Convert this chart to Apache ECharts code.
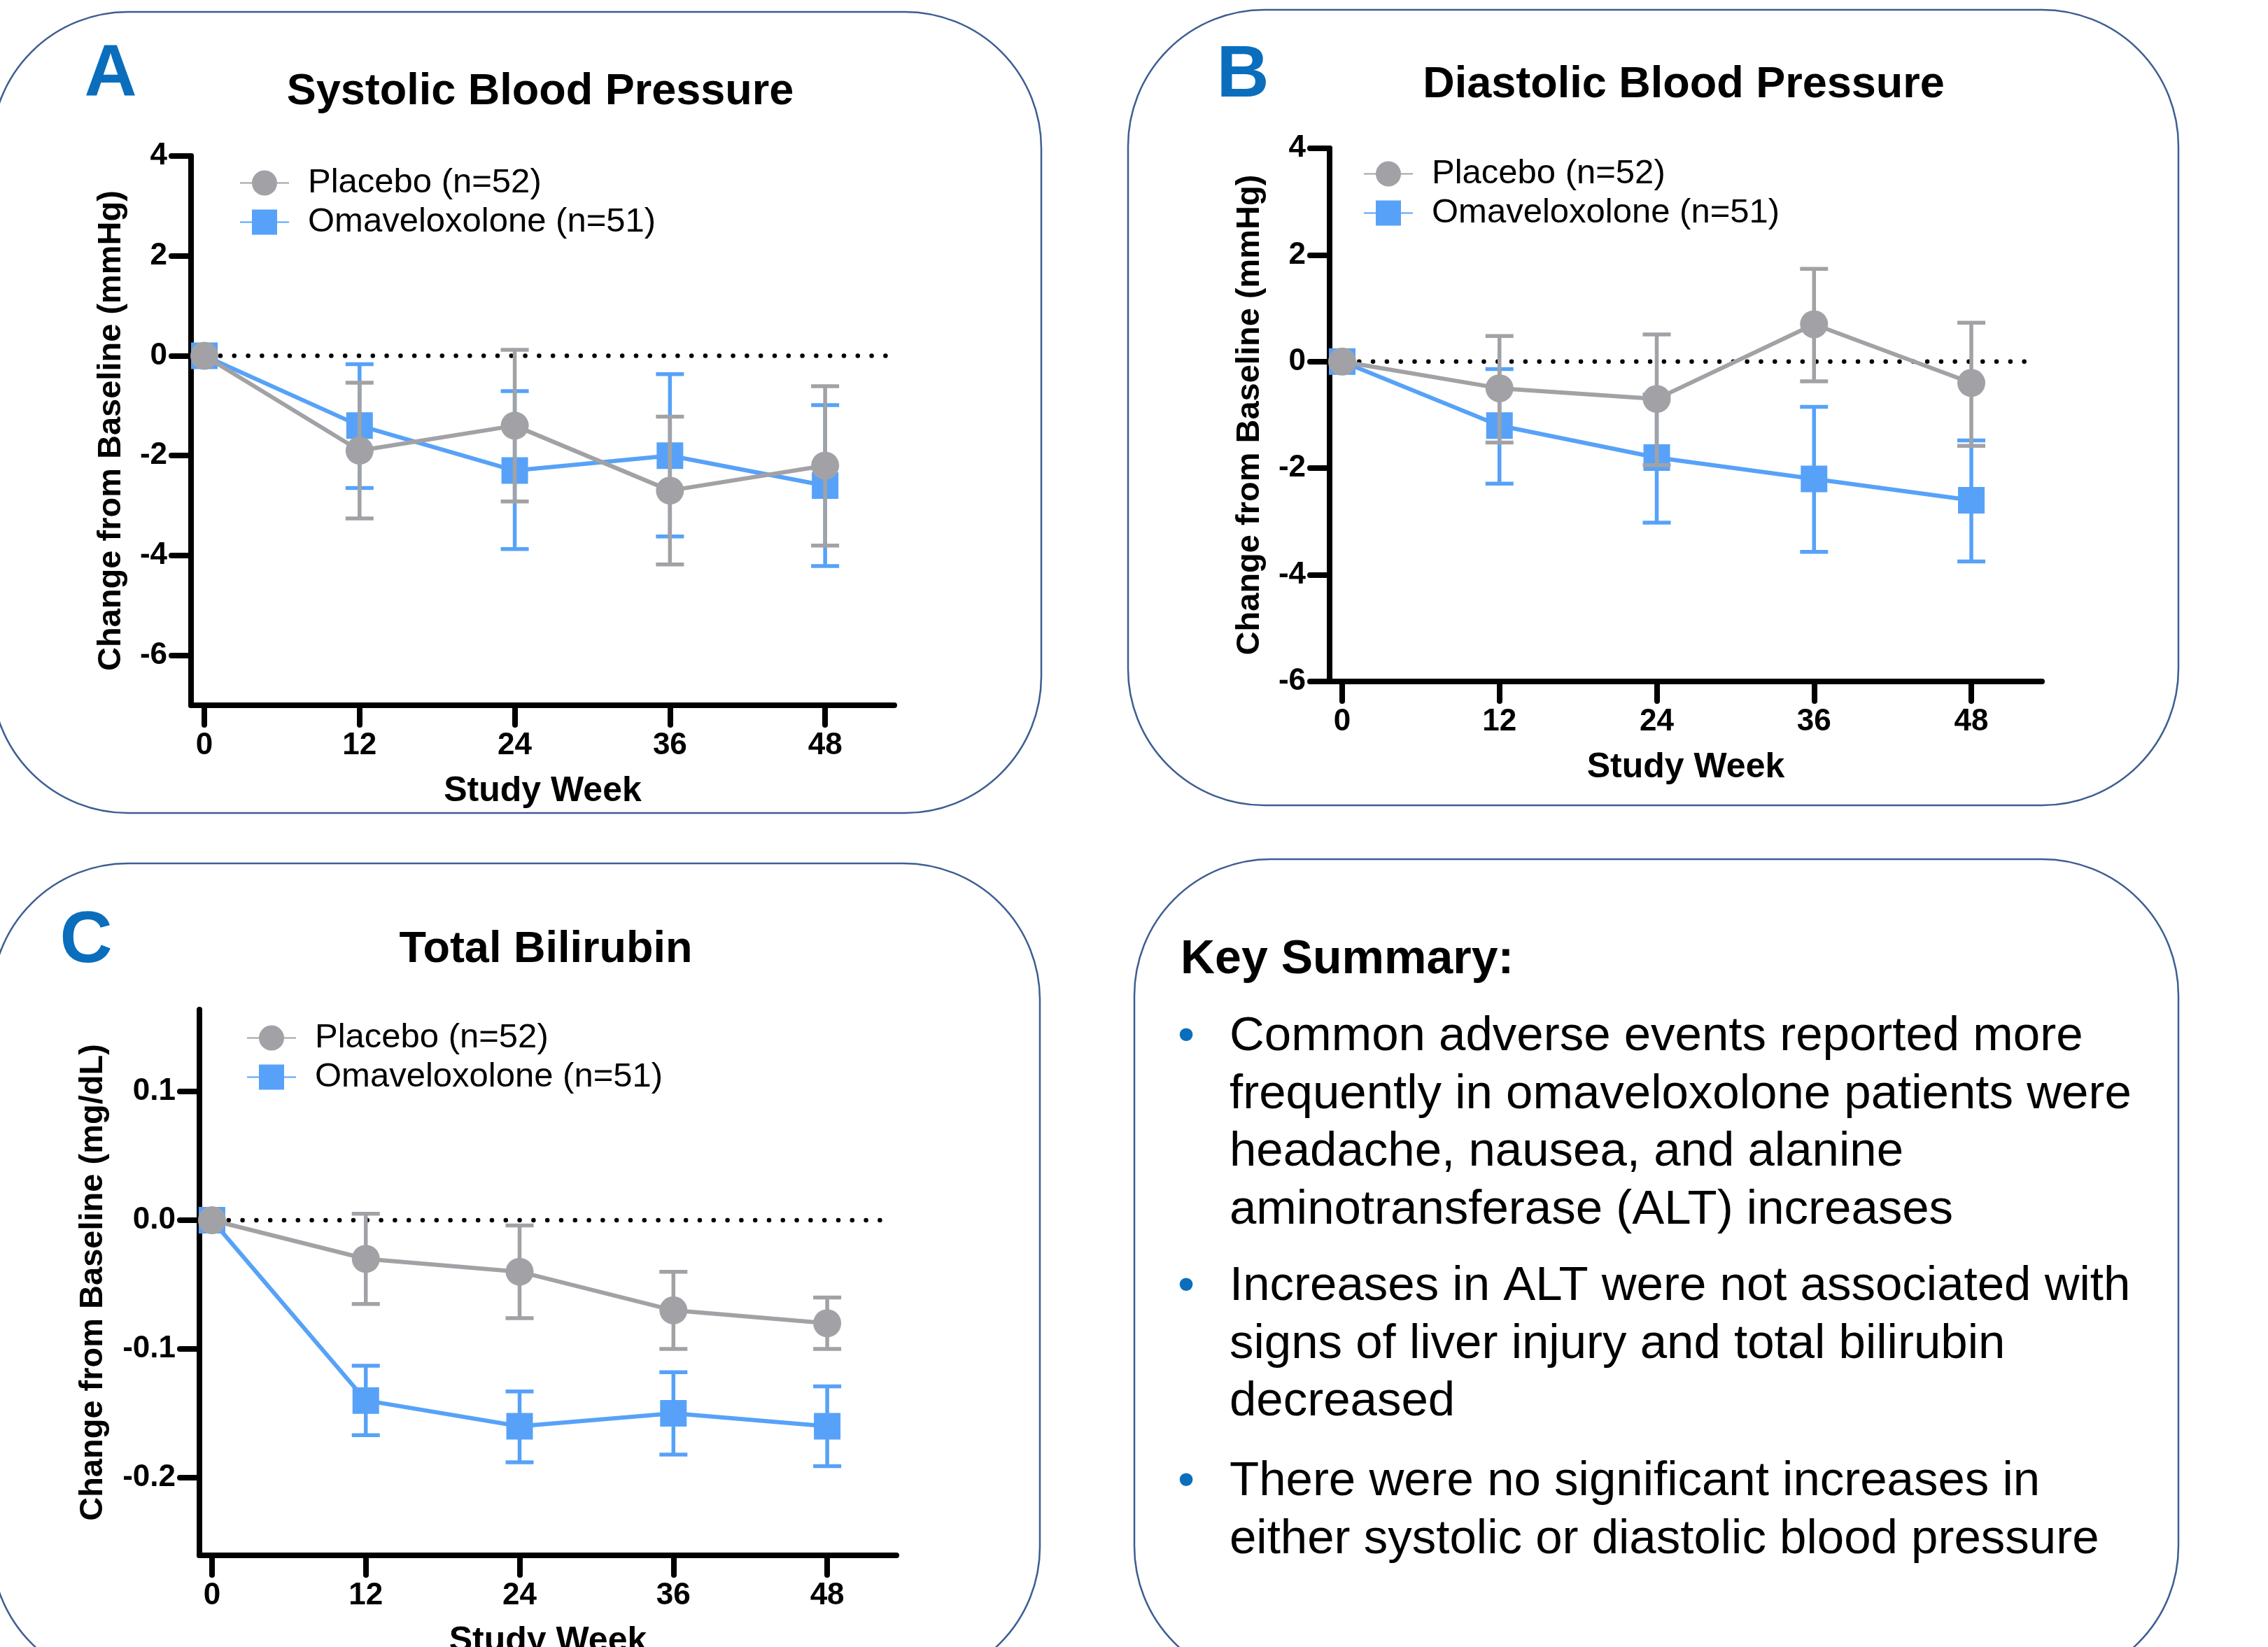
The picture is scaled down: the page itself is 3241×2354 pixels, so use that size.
<!DOCTYPE html>
<html>
<head>
<meta charset="utf-8">
<script src="https://cdn.jsdelivr.net/npm/echarts@6/dist/echarts.min.js"></script>
<style>
html,body{margin:0;padding:0;background:#fff;}
#chart{width:3241px;height:2354px;}
</style>
</head>
<body>
<div id="chart"></div>
<script>
// ---------------- data ----------------
const weeks = [0, 12, 24, 36, 48];
const xTicks = [0, 12, 24, 36, 48];

// A: Systolic Blood Pressure (mmHg)
const sbpPlaceboMean = [0, -1.9, -1.4, -2.7, -2.2];
const sbpPlaceboLow  = [null, -3.26, -2.92, -4.18, -3.80];
const sbpPlaceboHigh = [null, -0.54, 0.12, -1.22, -0.61];
const sbpOmavMean    = [0, -1.4, -2.3, -2.0, -2.6];
const sbpOmavLow     = [null, -2.65, -3.87, -3.62, -4.21];
const sbpOmavHigh    = [null, -0.17, -0.71, -0.37, -0.99];
const sbpTicks = [-6, -4, -2, 0, 2, 4];

// B: Diastolic Blood Pressure (mmHg)
const dbpPlaceboMean = [0, -0.5, -0.7, 0.7, -0.4];
const dbpPlaceboLow  = [null, -1.52, -1.94, -0.37, -1.58];
const dbpPlaceboHigh = [null, 0.48, 0.51, 1.74, 0.73];
const dbpOmavMean    = [0, -1.2, -1.8, -2.2, -2.6];
const dbpOmavLow     = [null, -2.29, -3.02, -3.57, -3.75];
const dbpOmavHigh    = [null, -0.14, -0.62, -0.85, -1.48];
const dbpTicks = [-6, -4, -2, 0, 2, 4];

// C: Total Bilirubin (mg/dL)
const bilPlaceboMean = [0, -0.03, -0.04, -0.07, -0.08];
const bilPlaceboLow  = [null, -0.065, -0.076, -0.100, -0.100];
const bilPlaceboHigh = [null, 0.005, -0.004, -0.040, -0.060];
const bilOmavMean    = [0, -0.14, -0.16, -0.15, -0.16];
const bilOmavLow     = [null, -0.167, -0.188, -0.182, -0.191];
const bilOmavHigh    = [null, -0.113, -0.133, -0.118, -0.129];
const bilTicks = [-0.2, -0.1, 0.0, 0.1];

const seriesNames = ['Placebo (n=52)', 'Omaveloxolone (n=51)'];
const panelTitles = ['Systolic Blood Pressure', 'Diastolic Blood Pressure', 'Total Bilirubin'];
const panelLetters = ['A', 'B', 'C'];
const yNames = ['Change from Baseline (mmHg)', 'Change from Baseline (mmHg)', 'Change from Baseline (mg/dL)'];
const xName = 'Study Week';
const summaryTitle = 'Key Summary:';
const summaryBullets = [
  ['Common adverse events reported more', 'frequently in omaveloxolone patients were', 'headache, nausea, and alanine', 'aminotransferase (ALT) increases'],
  ['Increases in ALT were not associated with', 'signs of liver injury and total bilirubin', 'decreased'],
  ['There were no significant increases in', 'either systolic or diastolic blood pressure']
];

// ---------------- style ----------------
const FONT = '"Liberation Sans", Arial, Helvetica, sans-serif';
const GRAY = '#A2A2A6';
const BLUE = '#57A2F8';
const LETTER_BLUE = '#0A6EBD';
const BORDER = '#3D5E92';

const chart = echarts.init(document.getElementById('chart'), null, {renderer: 'canvas'});

function errData(lo, hi) {
  const out = [];
  weeks.forEach((w, i) => { if (lo[i] != null) out.push([w, lo[i], hi[i]]); });
  return out;
}
function errRender(color) {
  return function (params, api) {
    const x = api.value(0);
    const p1 = api.coord([x, api.value(2)]);
    const p2 = api.coord([x, api.value(1)]);
    const hw = 20;
    const st = {stroke: color, lineWidth: 5.5, fill: null};
    return {
      type: 'group',
      children: [
        {type: 'line', shape: {x1: p1[0], y1: p1[1], x2: p2[0], y2: p2[1]}, style: st},
        {type: 'line', shape: {x1: p1[0] - hw, y1: p1[1], x2: p1[0] + hw, y2: p1[1]}, style: st},
        {type: 'line', shape: {x1: p2[0] - hw, y1: p2[1], x2: p2[0] + hw, y2: p2[1]}, style: st}
      ]
    };
  };
}
function pairs(arr) { return weeks.map((w, i) => [w, arr[i]]); }

const grids = [
  {left: 273, top: 223, width: 1005, height: 785, outerBoundsMode: 'none', containLabel: false},
  {left: 1900, top: 212, width: 1018, height: 762, outerBoundsMode: 'none', containLabel: false},
  {left: 285, top: 1443, width: 996, height: 780, outerBoundsMode: 'none', containLabel: false}
];
const xRanges = [[-1.03, 53.35], [-0.96, 53.39], [-0.98, 53.4]];
const yRanges = [[-7, 4], [-6, 4], [-0.2603, 0.1636]];
const yTickSets = [sbpTicks, dbpTicks, bilTicks];
const yFmt = [v => String(v), v => String(v), v => v.toFixed(1)];

const axisLineStyle = {color: '#000', width: 8, cap: 'round'};
const xAxes = grids.map((g, i) => ({
  type: 'value', gridIndex: i, min: xRanges[i][0], max: xRanges[i][1],
  splitLine: {show: false},
  axisLine: {show: true, onZero: false, lineStyle: axisLineStyle},
  axisTick: {show: true, length: 28, lineStyle: {color: '#000', width: 8, cap: 'round'}, customValues: xTicks},
  axisLabel: {show: true, customValues: xTicks, margin: 36, fontFamily: FONT, fontWeight: 'bold', fontSize: 44, color: '#000'},
  name: xName, nameLocation: 'middle', nameGap: 98,
  nameTextStyle: {fontFamily: FONT, fontWeight: 'bold', fontSize: 50, color: '#000'}
}));
const yAxes = grids.map((g, i) => ({
  type: 'value', gridIndex: i, min: yRanges[i][0], max: yRanges[i][1],
  splitLine: {show: false},
  axisLine: {show: true, onZero: false, lineStyle: axisLineStyle},
  axisTick: {show: true, length: 28, lineStyle: {color: '#000', width: 8, cap: 'round'}, customValues: yTickSets[i]},
  axisLabel: {show: true, customValues: yTickSets[i], margin: 34, formatter: yFmt[i], fontFamily: FONT, fontWeight: 'bold', fontSize: 44, color: '#000'},
  name: yNames[i], nameLocation: 'middle', nameGap: i === 2 ? 128 : 90, nameRotate: 90,
  nameTextStyle: {fontFamily: FONT, fontWeight: 'bold', fontSize: 47, color: '#000'}
}));

const panelData = [
  [sbpPlaceboMean, sbpPlaceboLow, sbpPlaceboHigh, sbpOmavMean, sbpOmavLow, sbpOmavHigh],
  [dbpPlaceboMean, dbpPlaceboLow, dbpPlaceboHigh, dbpOmavMean, dbpOmavLow, dbpOmavHigh],
  [bilPlaceboMean, bilPlaceboLow, bilPlaceboHigh, bilOmavMean, bilOmavLow, bilOmavHigh]
];

const series = [];
panelData.forEach((d, i) => {
  const [pm, pl, ph, om, ol, oh] = d;
  // dotted zero reference line
  series.push({
    type: 'line', xAxisIndex: i, yAxisIndex: i, silent: true, symbol: 'none',
    data: [[xRanges[i][0] + 1.2, 0], [xRanges[i][1] - 0.4, 0]],
    lineStyle: {color: '#000', width: 6.5, type: [0, 19.8], cap: 'round'}, z: 1
  });
  series.push({
    type: 'custom', xAxisIndex: i, yAxisIndex: i, silent: true,
    data: errData(ol, oh), renderItem: errRender(BLUE), z: 2
  });
  series.push({
    name: seriesNames[1], type: 'line', xAxisIndex: i, yAxisIndex: i,
    data: pairs(om), symbol: 'rect', symbolSize: 38, showAllSymbol: true,
    lineStyle: {color: BLUE, width: 6}, itemStyle: {color: BLUE}, z: 3
  });
  series.push({
    type: 'custom', xAxisIndex: i, yAxisIndex: i, silent: true,
    data: errData(pl, ph), renderItem: errRender(GRAY), z: 4
  });
  series.push({
    name: seriesNames[0], type: 'line', xAxisIndex: i, yAxisIndex: i,
    data: pairs(pm), symbol: 'circle', symbolSize: 40, showAllSymbol: true,
    lineStyle: {color: GRAY, width: 6}, itemStyle: {color: GRAY}, z: 5
  });
});

const legendPos = [{left: 337, top: 232}, {left: 1943, top: 219}, {left: 347, top: 1454}];
const legends = legendPos.map(p => ({
  left: p.left, top: p.top, orient: 'vertical', align: 'left',
  data: seriesNames, itemWidth: 70, itemHeight: 45, itemGap: 7,
  textStyle: {fontFamily: FONT, fontSize: 49, color: '#000', padding: [0, 0, 0, 22]},
  selectedMode: false
}));

// ---------------- graphics (panels + text) ----------------
const graphics = [];
const panels = [
  {x: -12, y: 17, w: 1500, h: 1145},
  {x: 1612, y: 14, w: 1501, h: 1137},
  {x: -12, y: 1234, w: 1498, h: 1172},
  {x: 1621, y: 1228, w: 1492, h: 1177}
];
panels.forEach(p => graphics.push({
  type: 'rect', shape: {x: p.x, y: p.y, width: p.w, height: p.h, r: 195},
  style: {fill: '#fff', stroke: BORDER, lineWidth: 2.5}, z: -10, silent: true
}));
const letterPos = [[158, 107], [1776, 109], [123, 1346]];
letterPos.forEach((p, i) => graphics.push({
  type: 'text', x: p[0], y: p[1], silent: true,
  style: {text: panelLetters[i], font: 'bold 104px ' + FONT, fill: LETTER_BLUE,
    textAlign: 'center', align: 'center', textVerticalAlign: 'middle', verticalAlign: 'middle'}
}));
const titlePos = [[772, 132], [2406, 122], [780, 1358]];
titlePos.forEach((p, i) => graphics.push({
  type: 'text', x: p[0], y: p[1], silent: true,
  style: {text: panelTitles[i], font: 'bold 63px ' + FONT, fill: '#000',
    textAlign: 'center', align: 'center', textVerticalAlign: 'middle', verticalAlign: 'middle'}
}));
// summary
graphics.push({
  type: 'text', x: 1687, y: 1372, silent: true,
  style: {text: summaryTitle, font: 'bold 68px ' + FONT, fill: '#000',
    textAlign: 'left', align: 'left', textVerticalAlign: 'middle', verticalAlign: 'middle'}
});
const bulletStartY = [1482, 1839, 2118];
const lineH = 82.7;
summaryBullets.forEach((lines, bi) => {
  graphics.push({
    type: 'text', x: 1695, y: bulletStartY[bi], silent: true,
    style: {text: '\u2022', font: '69px ' + FONT, fill: LETTER_BLUE,
      textAlign: 'center', align: 'center', textVerticalAlign: 'middle', verticalAlign: 'middle'}
  });
  lines.forEach((ln, li) => graphics.push({
    type: 'text', x: 1757, y: bulletStartY[bi] + li * lineH, silent: true,
    style: {text: ln, font: '69px ' + FONT, fill: '#000',
      textAlign: 'left', align: 'left', textVerticalAlign: 'middle', verticalAlign: 'middle'}
  }));
});

chart.setOption({
  backgroundColor: '#fff',
  animation: false,
  grid: grids,
  xAxis: xAxes,
  yAxis: yAxes,
  legend: legends,
  series: series,
  graphic: graphics
});
</script>
</body>
</html>
